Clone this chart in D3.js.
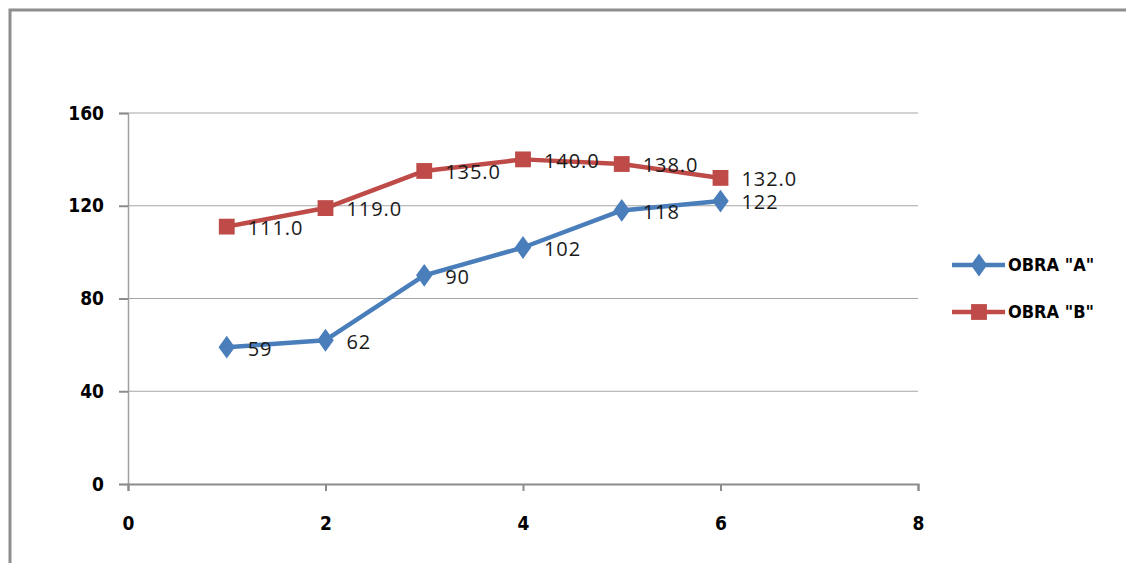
<!DOCTYPE html>
<html>
<head>
<meta charset="utf-8">
<script src="https://cdn.jsdelivr.net/npm/d3@7"></script>
<style>
  html, body { margin: 0; padding: 0; background: #fff; }
  svg { display: block; }
</style>
</head>
<body>
<svg id="chart" width="1126" height="563"></svg>
<script>
// Series data
const xValues = [1, 2, 3, 4, 5, 6];
const obraA = [59, 62, 90, 102, 118, 122];
const obraB = [111, 119, 135, 140, 138, 132];
const seriesNames = ['OBRA "A"', 'OBRA "B"'];
const xTicks = [0, 2, 4, 6, 8];
const yTicks = [0, 40, 80, 120, 160];

const svg = d3.select("#chart");
const W = 1126, H = 563;

const x = d3.scaleLinear().domain([0, 8]).range([128, 918]);
const y = d3.scaleLinear().domain([0, 160]).range([484, 113]);

const colA = "#4a7ebb", colB = "#be4b48";
const tickFont = "'DejaVu Sans', sans-serif";
const labelFont = "'Open Sans', 'Liberation Sans', sans-serif";

// Outer frame (top and left edges)
svg.append("path")
  .attr("d", `M10,${H} L10,10 L${W},10`)
  .attr("fill", "none")
  .attr("stroke", "#8e8e8e")
  .attr("stroke-width", 3);

// Horizontal gridlines
svg.append("g")
  .selectAll("line")
  .data(yTicks.filter(d => d > 0))
  .join("line")
  .attr("x1", x(0)).attr("x2", x(8))
  .attr("y1", d => y(d)).attr("y2", d => y(d))
  .attr("stroke", "#a6a6a6")
  .attr("stroke-width", 1.2);

function styleTickText(sel) {
  sel.attr("font-family", tickFont)
    .attr("font-weight", "bold")
    .attr("font-stretch", "condensed")
    .attr("font-size", 19)
    .attr("fill", "#000");
}

// Y axis
const yAxis = svg.append("g")
  .attr("transform", `translate(${x(0)},0)`)
  .call(d3.axisLeft(y).tickValues(yTicks).tickSize(9).tickPadding(15).tickFormat(d3.format("d")));
yAxis.select(".domain").attr("stroke", "#a0a0a0").attr("stroke-width", 1.5);
yAxis.selectAll(".tick line").attr("stroke", "#8c8c8c").attr("stroke-width", 2);
yAxis.selectAll(".tick text").call(styleTickText);

// X axis
const xAxis = svg.append("g")
  .attr("transform", `translate(0,${y(0)})`)
  .call(d3.axisBottom(x).tickValues(xTicks).tickSize(7).tickPadding(26).tickFormat(d3.format("d")));
xAxis.select(".domain").attr("stroke", "#8c8c8c").attr("stroke-width", 2);
xAxis.selectAll(".tick line").attr("stroke", "#8c8c8c").attr("stroke-width", 2);
xAxis.selectAll(".tick text").call(styleTickText);

const line = d3.line().x(d => x(d[0])).y(d => y(d[1]));

const series = [
  { name: seriesNames[0], values: obraA, color: colA, shape: d3.symbolDiamond, size: 150, fmt: d3.format("d") },
  { name: seriesNames[1], values: obraB, color: colB, shape: d3.symbolSquare, size: 250, fmt: d3.format(".1f") }
];

series.forEach(s => {
  const pts = xValues.map((xv, i) => [xv, s.values[i]]);
  const g = svg.append("g");
  g.append("path")
    .attr("d", line(pts))
    .attr("fill", "none")
    .attr("stroke", s.color)
    .attr("stroke-width", 4.5)
    .attr("stroke-linejoin", "round");
  g.selectAll("path.marker")
    .data(pts)
    .join("path")
    .attr("class", "marker")
    .attr("d", d3.symbol().type(s.shape).size(s.size))
    .attr("transform", d => `translate(${x(d[0])},${y(d[1])})` + (s.shape === d3.symbolDiamond ? " scale(1.25,1)" : ""))
    .attr("fill", s.color);
  g.selectAll("text")
    .data(pts)
    .join("text")
    .attr("x", d => x(d[0]) + 21)
    .attr("y", d => y(d[1]) + 3)
    .attr("dominant-baseline", "middle")
    .attr("font-family", labelFont)
    .attr("font-size", 20)
    .attr("letter-spacing", 0.9)
    .attr("fill", "#1a1a1a")
    .text(d => s.fmt(d[1]));
});

// Legend
const legend = svg.append("g");
series.forEach((s, i) => {
  const ly = 265 + i * 47;
  legend.append("line")
    .attr("x1", 952).attr("x2", 1005)
    .attr("y1", ly).attr("y2", ly)
    .attr("stroke", s.color).attr("stroke-width", 4.5);
  legend.append("path")
    .attr("d", d3.symbol().type(s.shape).size(s.size))
    .attr("transform", `translate(979,${ly})` + (s.shape === d3.symbolDiamond ? " scale(1.25,1)" : ""))
    .attr("fill", s.color);
  legend.append("text")
    .attr("x", 1008).attr("y", ly + 1)
    .attr("dominant-baseline", "middle")
    .attr("font-family", tickFont).attr("font-weight", "bold")
    .attr("font-stretch", "condensed")
    .attr("font-size", 18).attr("fill", "#000")
    .text(s.name);
});
</script>
</body>
</html>
